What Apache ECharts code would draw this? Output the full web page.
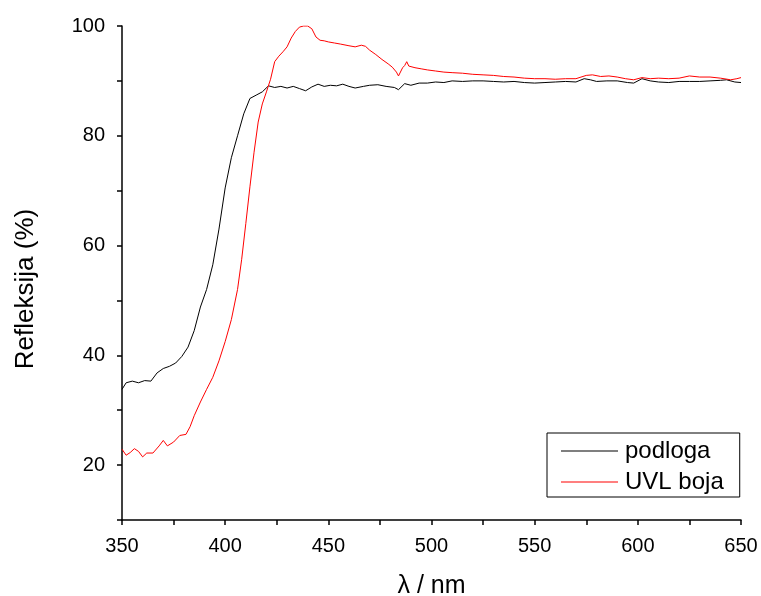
<!DOCTYPE html>
<html>
<head>
<meta charset="utf-8">
<script src="https://cdn.jsdelivr.net/npm/echarts@6/dist/echarts.min.js"></script>
<style>
  html, body { margin: 0; padding: 0; background: #fff; }
  #chart { width: 761px; height: 596px; }
</style>
</head>
<body>
<div id="chart"></div>
<script>
// valovne duljine (nm) i refleksija (%) ocitane sa slike
const podlogaX = [350,352,355,358,361,364,367,370,373,376,379,382,385,388,391,394,397,400,403,406,409,412,415,418,421,424,427,430,433,436,439,442,445,448,451,454,457,460,463,467,470,474,478,482,484,487,490,494,498,502,506,510,515,520,525,530,535,540,545,550,555,560,565,570,574,577,580,585,590,595,598,602,606,610,615,620,625,630,635,640,643,647,650];
const podlogaY = [33.8,35.0,35.3,35.0,35.4,35.3,36.8,37.6,38.0,38.6,39.8,41.5,44.5,48.8,52.0,56.5,63.0,70.5,76.0,80.0,84.0,86.8,87.4,88.0,89.1,88.8,89.0,88.7,89.0,88.6,88.2,88.9,89.4,89.0,89.2,89.1,89.4,89.0,88.7,89.0,89.2,89.3,89.0,88.8,88.4,89.5,89.2,89.6,89.6,89.8,89.7,90.0,89.9,90.0,90.0,89.9,89.8,89.9,89.7,89.6,89.7,89.8,89.9,89.8,90.4,90.2,89.9,90.0,90.0,89.7,89.6,90.4,90.0,89.8,89.7,89.9,89.9,89.9,90.0,90.1,90.2,89.8,89.7];

const bojaX = [350,352,354,356,358,360,362,365,368,370,372,375,378,381,383,385,388,391,394,397,400,403,406,408,410,412,414,416,418,420,422,424,426,428,430,432,434,436,438,440,442,444,446,448,450,453,456,460,463,466,468,470,473,476,479,481,483,484,486,487,488,489,492,495,498,502,506,510,515,520,525,530,535,540,545,550,555,560,565,570,575,578,582,586,590,594,598,602,606,610,615,620,625,630,635,640,645,648,650];
const bojaY = [22.9,21.8,22.3,23.0,22.5,21.5,22.2,22.2,23.5,24.5,23.5,24.2,25.4,25.6,27.0,29.0,31.5,33.8,36.0,39.0,42.5,46.5,52.0,57.5,64.0,70.7,77.0,82.5,85.8,88.0,90.3,93.5,94.5,95.3,96.2,97.8,99.0,99.8,100,100,99.5,98.0,97.4,97.3,97.1,96.9,96.7,96.4,96.2,96.5,96.3,95.6,94.8,93.9,93.1,92.5,91.6,90.9,92.4,92.8,93.5,92.7,92.4,92.2,92.0,91.8,91.6,91.5,91.4,91.2,91.1,91.0,90.8,90.7,90.5,90.4,90.4,90.3,90.4,90.4,91.0,91.1,90.8,90.9,90.7,90.4,90.2,90.6,90.4,90.5,90.4,90.5,90.9,90.7,90.7,90.5,90.2,90.4,90.6];

const seriesNames = ['podloga', 'UVL boja'];

const font = 'Liberation Sans, Arial, sans-serif';
const tickStyle = { color: '#000', width: 1.5 };

const chart = echarts.init(document.getElementById('chart'));
chart.setOption({
  animation: false,
  backgroundColor: '#fff',
  // grid fiksno postavljen, bez automatskog stezanja zbog natpisa
  grid: { left: 122, right: 20, top: 26, bottom: 76, containLabel: false, outerBoundsMode: 'none' },
  legend: {
    orient: 'vertical',
    left: 547,
    top: 433,
    padding: [6, 16, 3, 14],
    icon: 'rect',
    itemWidth: 57,
    itemHeight: 1,
    itemGap: 7,
    borderColor: '#000',
    borderWidth: 1,
    borderRadius: 0,
    data: seriesNames,
    textStyle: { fontFamily: font, fontSize: 24, color: '#000', padding: [0, 0, 0, 2] }
  },
  xAxis: {
    type: 'value',
    min: 350,
    max: 650,
    interval: 25,
    name: 'λ / nm',
    nameLocation: 'middle',
    nameGap: 54,
    nameTextStyle: { fontFamily: font, fontSize: 25, color: '#000' },
    axisLine: { lineStyle: tickStyle },
    axisTick: { inside: false, length: 5, lineStyle: tickStyle },
    axisLabel: {
      margin: 16,
      fontFamily: font,
      fontSize: 20,
      color: '#000',
      formatter: v => (v % 50 === 0 ? String(v) : '')
    },
    splitLine: { show: false }
  },
  yAxis: {
    type: 'value',
    min: 10,
    max: 100,
    interval: 10,
    name: 'Refleksija (%)',
    nameLocation: 'middle',
    nameGap: 83,
    // padding desno pomice natpis prema dolje
    nameTextStyle: { fontFamily: font, fontSize: 26, color: '#000', padding: [0, 32, 0, 0] },
    axisLine: { show: true, lineStyle: tickStyle },
    axisTick: { show: true, inside: false, length: 5, lineStyle: tickStyle },
    axisLabel: {
      margin: 17,
      fontFamily: font,
      fontSize: 20,
      color: '#000',
      formatter: v => (v % 20 === 0 ? String(v) : '')
    },
    splitLine: { show: false }
  },
  series: [
    {
      name: seriesNames[0],
      type: 'line',
      symbol: 'none',
      color: '#000000',
      lineStyle: { color: '#000000', width: 1 },
      data: podlogaX.map((x, i) => [x, podlogaY[i]])
    },
    {
      name: seriesNames[1],
      type: 'line',
      symbol: 'none',
      color: '#ff0000',
      lineStyle: { color: '#ff0000', width: 1 },
      data: bojaX.map((x, i) => [x, bojaY[i]])
    }
  ]
});
</script>
</body>
</html>
